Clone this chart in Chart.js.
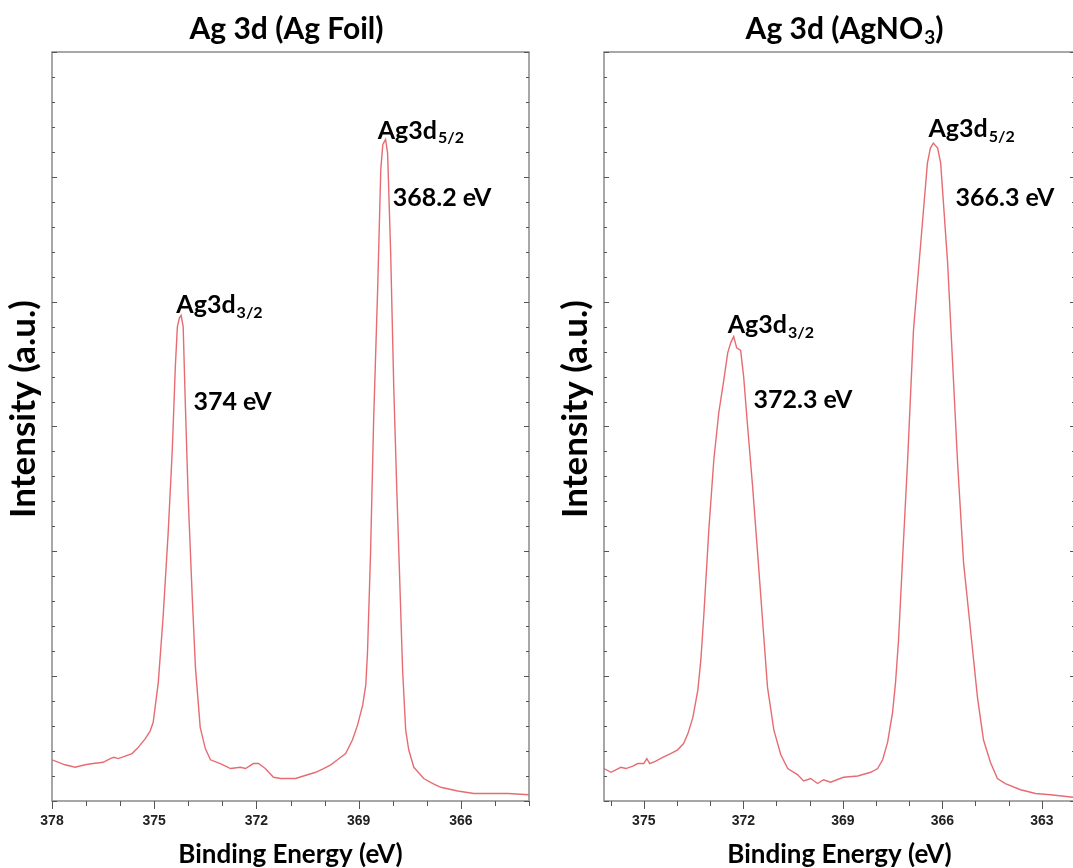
<!DOCTYPE html>
<html>
<head>
<meta charset="utf-8">
<title>Ag 3d XPS</title>
<script src="https://cdn.jsdelivr.net/npm/chart.js@4.4.1/dist/chart.umd.min.js"></script>
<style>
  html, body { margin: 0; padding: 0; background: #fff; overflow: hidden; width: 1073px; height: 868px; }
  canvas { position: absolute; top: 0; }
  #foil { left: 0; }
  #nitrate { left: 552px; }
</style>
</head>
<body>
<canvas id="foil" width="545" height="868"></canvas>
<canvas id="nitrate" width="539" height="868"></canvas>
<script>
/* Ag 3d XPS spectra, Ag foil vs AgNO3 */

// Ag foil spectrum (binding energy eV, intensity a.u.)
const foilEnergy = [
  378.00, 377.62, 377.32, 377.03, 376.79, 376.50, 376.29, 376.18, 376.06, 375.85,
  375.65, 375.50, 375.26, 375.12, 375.03, 374.88, 374.74, 374.59, 374.47, 374.38,
  374.32, 374.26, 374.21, 374.15, 374.09, 374.00, 373.88, 373.79, 373.65, 373.50,
  373.35, 373.06, 372.76, 372.47, 372.32, 372.09, 371.94, 371.74, 371.50, 371.29,
  371.09, 370.85, 370.50, 370.26, 370.03, 369.82, 369.62, 369.38, 369.18, 369.03,
  368.88, 368.79, 368.74, 368.65, 368.56, 368.44, 368.35, 368.29, 368.21, 368.15,
  368.06, 367.97, 367.88, 367.82, 367.71, 367.62, 367.53, 367.38, 367.09, 366.82,
  366.59, 366.09, 365.62, 365.12, 364.62, 364.00
];
const foilIntensity = [
  0.33, 0.29, 0.27, 0.29, 0.30, 0.31, 0.34, 0.35, 0.34, 0.36,
  0.38, 0.42, 0.50, 0.56, 0.63, 0.95, 1.47, 2.15, 2.81, 3.48,
  3.80, 3.87, 3.89, 3.80, 3.21, 2.41, 1.61, 1.07, 0.59, 0.42,
  0.33, 0.30, 0.26, 0.27, 0.26, 0.30, 0.30, 0.26, 0.19, 0.18,
  0.18, 0.18, 0.21, 0.23, 0.26, 0.29, 0.33, 0.38, 0.49, 0.61,
  0.77, 0.93, 1.19, 1.99, 3.05, 4.12, 5.06, 5.26, 5.30, 5.19,
  4.39, 3.32, 2.49, 1.99, 1.05, 0.57, 0.41, 0.27, 0.18, 0.14,
  0.11, 0.08, 0.06, 0.06, 0.06, 0.05
];

// AgNO3 spectrum
const nitrateEnergy = [
  376.20, 375.99, 375.69, 375.54, 375.33, 375.18, 375.00, 374.91, 374.82, 374.64,
  374.43, 374.19, 373.98, 373.80, 373.67, 373.52, 373.37, 373.28, 373.19, 373.04,
  372.89, 372.74, 372.59, 372.47, 372.38, 372.29, 372.20, 372.08, 371.99, 371.87,
  371.72, 371.57, 371.42, 371.27, 371.08, 370.87, 370.66, 370.36, 370.18, 369.97,
  369.76, 369.58, 369.37, 368.98, 368.55, 368.16, 367.95, 367.80, 367.65, 367.50,
  367.41, 367.32, 367.20, 367.05, 366.87, 366.66, 366.45, 366.36, 366.27, 366.14,
  366.05, 365.84, 365.69, 365.54, 365.36, 365.15, 364.94, 364.76, 364.55, 364.34,
  364.10, 363.64, 363.19, 362.74, 362.05
];
const nitrateIntensity = [
  0.26, 0.23, 0.27, 0.26, 0.28, 0.30, 0.30, 0.34, 0.30, 0.32,
  0.35, 0.38, 0.41, 0.46, 0.54, 0.67, 0.89, 1.13, 1.49, 2.17,
  2.73, 3.11, 3.37, 3.59, 3.67, 3.72, 3.63, 3.61, 3.40, 3.00,
  2.52, 1.99, 1.45, 0.91, 0.57, 0.37, 0.26, 0.21, 0.16, 0.18,
  0.14, 0.17, 0.15, 0.19, 0.20, 0.23, 0.26, 0.33, 0.47, 0.71,
  0.95, 1.29, 1.93, 2.71, 3.77, 4.44, 5.11, 5.23, 5.27, 5.23,
  5.11, 4.31, 3.51, 2.71, 1.91, 1.37, 0.83, 0.49, 0.31, 0.18,
  0.14, 0.09, 0.06, 0.05, 0.03
];

// peak labels: [energy, intensity, text, subscript]
const foilPeakLabels = [
  [368.44, 5.37, "Ag3d", "5/2"],
  [368.00, 4.83, "368.2 eV", ""],
  [374.35, 3.97, "Ag3d", "3/2"],
  [373.85, 3.20, "374 eV", ""],
];
const nitratePeakLabels = [
  [366.42, 5.38, "Ag3d", "5/2"],
  [365.60, 4.83, "366.3 eV", ""],
  [372.47, 3.81, "Ag3d", "3/2"],
  [371.69, 3.21, "372.3 eV", ""],
];

const LINE = "rgb(230,108,114)";
const FRAME = "#8a8a8a";
const TEXT_FONT = "Lato, 'Open Sans', sans-serif";

/* ---------- plugins ---------- */
const frame = {
  id: "frame",
  afterDraw(chart) {
    const { ctx, chartArea: a, scales: { x, y } } = chart;
    ctx.save();
    ctx.strokeStyle = FRAME;
    ctx.lineWidth = 1.5;
    ctx.strokeRect(a.left, a.top, a.right - a.left, a.bottom - a.top);
    ctx.lineWidth = 1;
    ctx.strokeStyle = "#555";
    ctx.beginPath();
    // y ticks, inward on both sides
    for (let v = 0; v <= 6.001; v += 0.2) {
      const py = Math.round(y.getPixelForValue(v)) + 0.5;
      const len = Math.abs(v - Math.round(v)) < 1e-6 ? 5 : 3;
      ctx.moveTo(a.left, py); ctx.lineTo(a.left + len, py);
      ctx.moveTo(a.right, py); ctx.lineTo(a.right - len, py);
    }
    // x ticks, outward below
    for (let v = Math.ceil(x.min); v <= x.max; v++) {
      const px = Math.round(x.getPixelForValue(v)) + 0.5;
      const len = v % 3 === 0 ? 8 : 5;
      ctx.moveTo(px, a.bottom); ctx.lineTo(px, a.bottom + len);
    }
    ctx.stroke();
    ctx.restore();
  },
};

function drawSubText(ctx, px, py, main, sub, size) {
  ctx.font = `bold ${size}px ${TEXT_FONT}`;
  ctx.fillText(main, px, py);
  if (sub) {
    const w = ctx.measureText(main).width;
    ctx.font = `bold ${Math.round(size * 0.64)}px ${TEXT_FONT}`;
    ctx.fillText(sub, px + w + 1, py + size * 0.3);
  }
}

const peakLabels = {
  id: "peakLabels",
  afterDraw(chart, args, opts) {
    const { ctx, scales: { x, y } } = chart;
    ctx.save();
    ctx.fillStyle = "#000";
    ctx.textBaseline = "middle";
    ctx.textAlign = "left";
    for (const [e, i, main, sub] of opts.items || []) {
      drawSubText(ctx, x.getPixelForValue(e), y.getPixelForValue(i), main, sub, 25);
    }
    ctx.restore();
  },
};

const panelTitle = {
  id: "panelTitle",
  afterDraw(chart, args, opts) {
    const { ctx, chartArea: a } = chart;
    const big = `bold 30px ${TEXT_FONT}`, small = `bold 19px ${TEXT_FONT}`;
    ctx.save();
    ctx.fillStyle = "#000";
    ctx.textBaseline = "middle";
    ctx.textAlign = "left";
    ctx.font = big;
    const w1 = ctx.measureText(opts.main).width;
    const w3 = opts.tail ? ctx.measureText(opts.tail).width : 0;
    ctx.font = small;
    const w2 = opts.sub ? ctx.measureText(opts.sub).width + 1 : 0;
    let px = (a.left + a.right) / 2 + (opts.dx || 0) - (w1 + w2 + w3) / 2;
    const py = 29;
    ctx.font = big;
    ctx.fillText(opts.main, px, py);
    px += w1;
    if (opts.sub) {
      ctx.font = small;
      ctx.fillText(opts.sub, px + 1, py + 9);
      px += w2;
    }
    if (opts.tail) {
      ctx.font = big;
      ctx.fillText(opts.tail, px, py);
    }
    ctx.restore();
  },
};

/* ---------- charts ---------- */
function makeChart(id, energy, intensity, xMin, xMax, labels, title) {
  const points = energy.map((e, k) => ({ x: e, y: intensity[k] }));
  return new Chart(document.getElementById(id), {
    type: "line",
    data: {
      datasets: [{
        data: points, borderColor: LINE, borderWidth: 1.4,
        pointRadius: 0, tension: 0, fill: false,
      }],
    },
    options: {
      responsive: false, animation: false,
      layout: { padding: { top: 52, right: 16, left: 0, bottom: 0 } },
      scales: {
        x: {
          type: "linear", reverse: true, min: xMin, max: xMax,
          grid: { display: false, drawTicks: false }, border: { display: false },
          ticks: {
            stepSize: 1, autoSkip: false, maxRotation: 0, padding: 12, color: "#222",
            font: { family: "'Liberation Sans', Arial, sans-serif", size: 14, weight: "bold" },
            callback: (v) => (v % 3 === 0 ? String(v) : ""),
          },
          title: {
            display: true, text: "Binding Energy (eV)", color: "#000",
            font: { family: TEXT_FONT, size: 26, weight: "bold", lineHeight: 1 },
            padding: { top: 0, bottom: 0 },
          },
          afterFit: (s) => { s.height = 67; },
        },
        y: {
          min: 0, max: 6,
          grid: { display: false, drawTicks: false }, border: { display: false },
          ticks: { display: false },
          title: {
            display: true, text: "\u2002\u2002Intensity (a.u.)", color: "#000",
            font: { family: TEXT_FONT, size: 35, weight: "bold", lineHeight: 1.2 },
            padding: { top: 3, bottom: 0 },
          },
          afterFit: (s) => { s.width = 52; },
        },
      },
      plugins: {
        legend: { display: false }, tooltip: { enabled: false },
        peakLabels: { items: labels },
        panelTitle: title,
      },
    },
    plugins: [frame, peakLabels, panelTitle],
  });
}

makeChart("foil", foilEnergy, foilIntensity, 364, 378, foilPeakLabels,
  { main: "Ag 3d (Ag Foil)", dx: -4 });
makeChart("nitrate", nitrateEnergy, nitrateIntensity, 362, 376.2, nitratePeakLabels,
  { main: "Ag 3d (AgNO", sub: "3", tail: ")", dx: 5 });
</script>
</body>
</html>
